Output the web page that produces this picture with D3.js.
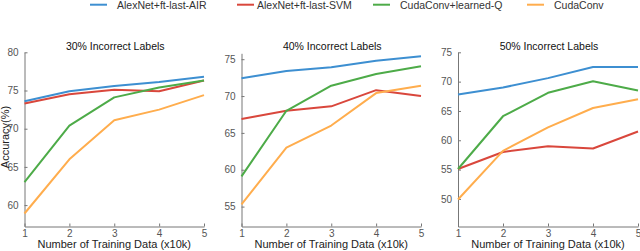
<!DOCTYPE html>
<html>
<head>
<meta charset="utf-8">
<script src="https://cdn.jsdelivr.net/npm/d3@7"></script>
<style>
  body { margin: 0; background: #fff; }
  svg { display: block; font-family: "Liberation Sans", Arial, sans-serif; }
  .axis path, .axis line { stroke: #777; }
  .axis text { fill: #555; font-size: 10px; }
</style>
</head>
<body>
<svg width="640" height="251"></svg>
<script>
// data
const trainSizes = [1, 2, 3, 4, 5];
const seriesNames = ["AlexNet+ft-last-AIR", "AlexNet+ft-last-SVM", "CudaConv+learned-Q", "CudaConv"];
const seriesColors = ["#3d8fd1", "#d9473c", "#4dab48", "#ffad4d"];
const panelTitles = ["30% Incorrect Labels", "40% Incorrect Labels", "50% Incorrect Labels"];

// 30% incorrect
const air30 = [73.6, 74.9, 75.6, 76.1, 76.8];
const svm30 = [73.3, 74.5, 75.1, 74.9, 76.3];
const learnedQ30 = [63.0, 70.4, 74.1, 75.4, 76.3];
const cuda30 = [58.9, 66.0, 71.1, 72.5, 74.4];
// 40% incorrect
const air40 = [72.4, 73.4, 73.9, 74.8, 75.4];
const svm40 = [66.9, 68.0, 68.6, 70.8, 70.0];
const learnedQ40 = [59.1, 68.0, 71.4, 73.0, 74.05];
const cuda40 = [55.3, 63.0, 66.0, 70.4, 71.4];
// 50% incorrect
const air50 = [67.8, 69.0, 70.6, 72.5, 72.5];
const svm50 = [55.1, 58.0, 59.0, 58.6, 61.5];
const learnedQ50 = [55.1, 64.1, 68.1, 70.05, 68.5];
const cuda50 = [49.9, 58.2, 62.2, 65.5, 67.0];

const yTicks30 = [60, 65, 70, 75, 80];
const yTicks40 = [55, 60, 65, 70, 75];
const yTicks50 = [50, 55, 60, 65, 70, 75];

var svg = d3.select("svg");

// 三個子圖的版面
const panels = [
  { title: panelTitles[0], series: [air30, svm30, learnedQ30, cuda30], ticks: yTicks30,
    x0: 24.5, x1: 204, yDomain: [57.2, 80], yTop: 52.3 },
  { title: panelTitles[1], series: [air40, svm40, learnedQ40, cuda40], ticks: yTicks40,
    x0: 241.5, x1: 421, yDomain: [52.3, 75.8], yTop: 53.3 },
  { title: panelTitles[2], series: [air50, svm50, learnedQ50, cuda50], ticks: yTicks50,
    x0: 458, x1: 638, yDomain: [45.3, 75], yTop: 52.3 },
];
const yBottom = 226.5;

panels.forEach(function (p, pi) {
  const g = svg.append("g");
  const x = d3.scaleLinear().domain([1, 5]).range([p.x0, p.x1]);
  const y = d3.scaleLinear().domain(p.yDomain).range([yBottom, p.yTop]);

  // 座標軸 (刻度朝內)
  g.append("g")
    .attr("class", "axis")
    .attr("transform", "translate(" + p.x0 + ",0)")
    .call(d3.axisLeft(y).tickValues(p.ticks).tickSizeInner(-3).tickSizeOuter(0).tickPadding(6));
  g.append("g")
    .attr("class", "axis")
    .attr("transform", "translate(0," + yBottom + ")")
    .call(d3.axisBottom(x).tickValues(trainSizes).tickFormat(d3.format("d"))
      .tickSizeInner(-3).tickSizeOuter(0).tickPadding(3.5));

  const line = d3.line()
    .x((d, i) => x(trainSizes[i]))
    .y((d) => y(d));

  p.series.forEach(function (vals, si) {
    g.append("path")
      .datum(vals)
      .attr("d", line)
      .attr("fill", "none")
      .attr("stroke", seriesColors[si])
      .attr("stroke-width", 2)
      .attr("stroke-linejoin", "round");
  });

  g.append("text")
    .attr("x", (p.x0 + p.x1) / 2 + 1)
    .attr("y", 50)
    .attr("text-anchor", "middle")
    .attr("font-size", "10.5px")
    .attr("fill", "#111")
    .text(p.title);

  g.append("text")
    .attr("x", (p.x0 + p.x1) / 2)
    .attr("y", 248)
    .attr("text-anchor", "middle")
    .attr("font-size", "11px")
    .attr("fill", "#222")
    .text("Number of Training Data (x10k)");
});

// y 軸標籤
svg.append("text")
  .attr("transform", "translate(8.5,137) rotate(-90)")
  .attr("text-anchor", "middle")
  .attr("font-size", "11px")
  .attr("fill", "#222")
  .text("Accuracy(%)");

// 圖例
const legendX = [90, 237, 373, 527];
const legend = svg.append("g");
seriesNames.forEach(function (name, i) {
  legend.append("line")
    .attr("x1", legendX[i]).attr("x2", legendX[i] + 17)
    .attr("y1", 4.7).attr("y2", 4.7)
    .attr("stroke", seriesColors[i])
    .attr("stroke-width", 2);
  legend.append("text")
    .attr("x", legendX[i] + (i === 1 ? 20 : 27))
    .attr("y", 8.5)
    .attr("font-size", "10.5px")
    .attr("fill", "#333")
    .text(name);
});
</script>
</body>
</html>
